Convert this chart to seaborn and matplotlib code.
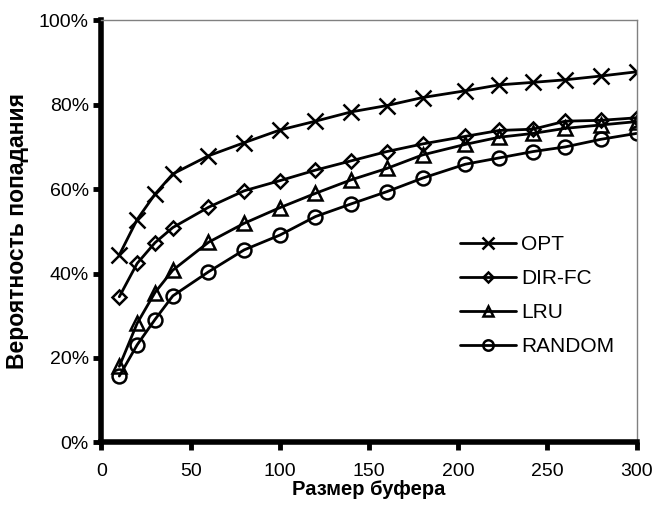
import pandas as pd
import matplotlib
matplotlib.use("Agg")
import matplotlib.pyplot as plt
import seaborn as sns
from matplotlib.ticker import PercentFormatter

sns.set_style("ticks")
plt.rcParams['font.family'] = ['Liberation Sans', 'DejaVu Sans']
plt.rcParams['text.color'] = 'black'
plt.rcParams['xtick.color'] = 'black'
plt.rcParams['ytick.color'] = 'black'
plt.rcParams['axes.labelcolor'] = 'black'

# Данные (оценены по рисунку)
buffer_size = [10, 20, 30, 40, 60, 80, 100, 120, 140, 160, 180, 204, 223, 242, 260, 280, 300]
opt = [44.4, 52.8, 58.8, 63.6, 67.9, 71.0, 74.0, 76.1, 78.3, 79.8, 81.7, 83.3, 84.7, 85.3, 85.9, 86.8, 87.8]
dir_fc = [34.5, 42.4, 47.3, 50.9, 55.7, 59.6, 62.0, 64.5, 66.7, 68.9, 70.7, 72.5, 73.9, 74.2, 76.1, 76.3, 76.9]
lru = [18.0, 28.2, 35.5, 40.8, 47.4, 51.9, 55.6, 59.0, 62.2, 64.9, 68.1, 70.6, 72.3, 73.2, 74.4, 75.2, 76.0]
random_ = [15.7, 23.1, 29.1, 34.7, 40.4, 45.6, 49.1, 53.5, 56.5, 59.4, 62.6, 65.9, 67.4, 68.9, 70.0, 71.8, 73.2]

series = [
    ("OPT", opt, "x", 11),
    ("DIR-FC", dir_fc, "D", 7),
    ("LRU", lru, "^", 10),
    ("RANDOM", random_, "o", 10),
]

fig = plt.figure(figsize=(6.56, 5.08), dpi=100)
ax = fig.add_axes([0.1547, 0.1293, 0.8156, 0.8307])

for name, vals, m, ms in series:
    df = pd.DataFrame({'size': buffer_size, 'hit': vals})
    sns.lineplot(data=df, x='size', y='hit', ax=ax, color='black', linewidth=2,
                 marker=m, markersize=ms, markerfacecolor='none', markeredgecolor='black',
                 markeredgewidth=1.8, label=name)

ax.set_xlim(0, 300)
ax.set_ylim(0, 100)
ax.set_xticks(range(0, 301, 50))
ax.set_yticks(range(0, 101, 20))
ax.yaxis.set_major_formatter(PercentFormatter(100, decimals=0))
ax.tick_params(axis='both', labelsize=14, width=3.5, length=6, direction='out')
ax.tick_params(axis='x', pad=9)
ax.tick_params(axis='y', pad=3)

for s in ['left', 'bottom']:
    ax.spines[s].set_linewidth(4)
    ax.spines[s].set_color('black')
for s in ['top', 'right']:
    ax.spines[s].set_linewidth(1)
    ax.spines[s].set_color('#808080')

ax.set_xlabel('Размер буфера', fontsize=14.5, fontweight='bold', labelpad=0)
ax.set_ylabel('Вероятность попадания', fontsize=16.5, fontweight='bold', labelpad=7)

leg = ax.legend(loc='upper left', bbox_to_anchor=(0.635, 0.535), frameon=False, fontsize=15,
                handlelength=2.7, handletextpad=0.25, labelspacing=0.72, markerscale=0.75)

fig.savefig('out.png', dpi=100)
